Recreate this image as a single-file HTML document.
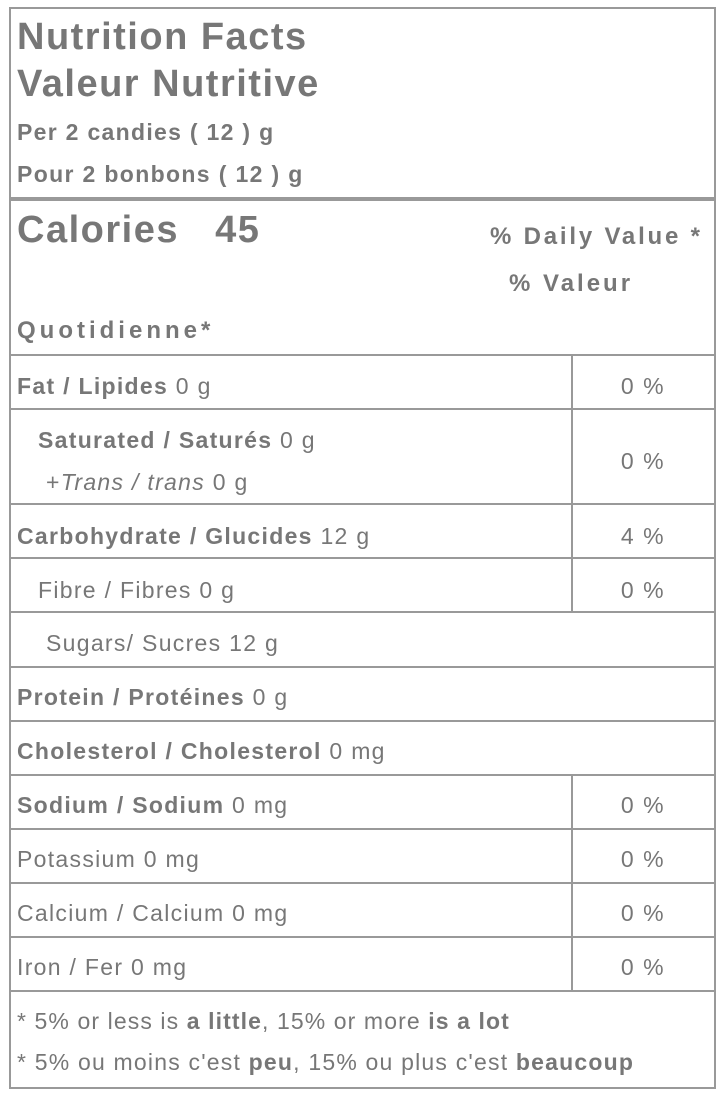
<!DOCTYPE html>
<html><head><meta charset="utf-8"><style>
body{margin:0;width:720px;height:1095px;background:#fff;font-family:"Liberation Sans",Arial,sans-serif;color:#777;position:relative;overflow:hidden}
.a{position:absolute;white-space:nowrap;line-height:1}
.b{font-weight:bold}
.h{position:absolute;left:10px;width:704px;height:2px;background:#999}
.v{position:absolute;left:571px;width:2px;background:#999}
.t{font-size:23px;letter-spacing:1.3px}
.p{position:absolute;left:573px;width:140px;text-align:center;font-size:23px;line-height:1;letter-spacing:1.5px}
</style></head><body>
<div style="position:absolute;left:9px;top:7px;width:703px;height:1078px;border:2px solid #999"></div>
<div class="h" style="top:197px;height:4px"></div>
<div class="a b" style="left:17px;top:18px;font-size:38px;letter-spacing:1.5px">Nutrition Facts</div>
<div class="a b" style="left:17px;top:65px;font-size:38px;letter-spacing:1.5px">Valeur Nutritive</div>
<div class="a b" style="left:17px;top:121px;font-size:23px;letter-spacing:1.3px">Per 2 candies ( 12 ) g</div>
<div class="a b" style="left:17px;top:163px;font-size:23px;letter-spacing:1.35px">Pour 2 bonbons ( 12 ) g</div>
<div class="a b" style="left:17px;top:211px;font-size:38px;letter-spacing:1.5px">Calories&nbsp;&nbsp;&nbsp;45</div>
<div class="a b" style="left:490px;top:225px;font-size:24px;letter-spacing:2.8px">% Daily Value *</div>
<div class="a b" style="left:509px;top:272px;font-size:24px;letter-spacing:3px">% Valeur</div>
<div class="a b" style="left:17px;top:319px;font-size:24px;letter-spacing:4px">Quotidienne*</div>

<div class="h" style="top:354px"></div>
<div class="h" style="top:408px"></div>
<div class="h" style="top:503px"></div>
<div class="h" style="top:557px"></div>
<div class="h" style="top:611px"></div>
<div class="h" style="top:666px"></div>
<div class="h" style="top:720px"></div>
<div class="h" style="top:774px"></div>
<div class="h" style="top:828px"></div>
<div class="h" style="top:882px"></div>
<div class="h" style="top:936px"></div>
<div class="h" style="top:990px"></div>
<div class="v" style="top:355px;height:257px"></div>
<div class="v" style="top:775px;height:216px"></div>

<div class="a t" style="left:17px;top:375px"><b>Fat / Lipides</b> 0 g</div><div class="p" style="top:375px">0 %</div>
<div class="a t" style="left:38px;top:429px"><b>Saturated / Saturés</b> 0 g</div>
<div class="a t" style="left:46px;top:471px">+<i>Trans / trans</i> 0 g</div><div class="p" style="top:450px">0 %</div>
<div class="a t" style="left:17px;top:525px"><b>Carbohydrate / Glucides</b> 12 g</div><div class="p" style="top:525px">4 %</div>
<div class="a t" style="left:38px;top:579px">Fibre / Fibres 0 g</div><div class="p" style="top:579px">0 %</div>
<div class="a t" style="left:46px;top:632px">Sugars/ Sucres 12 g</div>
<div class="a t" style="left:17px;top:686px"><b>Protein / Protéines</b> 0 g</div>
<div class="a t" style="left:17px;top:740px"><b>Cholesterol / Cholesterol</b> 0 mg</div>
<div class="a t" style="left:17px;top:794px"><b>Sodium / Sodium</b> 0 mg</div><div class="p" style="top:794px">0 %</div>
<div class="a t" style="left:17px;top:848px">Potassium 0 mg</div><div class="p" style="top:848px">0 %</div>
<div class="a t" style="left:17px;top:902px">Calcium / Calcium 0 mg</div><div class="p" style="top:902px">0 %</div>
<div class="a t" style="left:17px;top:956px">Iron / Fer 0 mg</div><div class="p" style="top:956px">0 %</div>
<div class="a t" style="left:17px;top:1010px;letter-spacing:1.1px">* 5% or less is <b>a little</b>, 15% or more <b>is a lot</b></div>
<div class="a t" style="left:17px;top:1051px;letter-spacing:1.2px">* 5% ou moins c'est <b>peu</b>, 15% ou plus c'est <b>beaucoup</b></div>
</body></html>
